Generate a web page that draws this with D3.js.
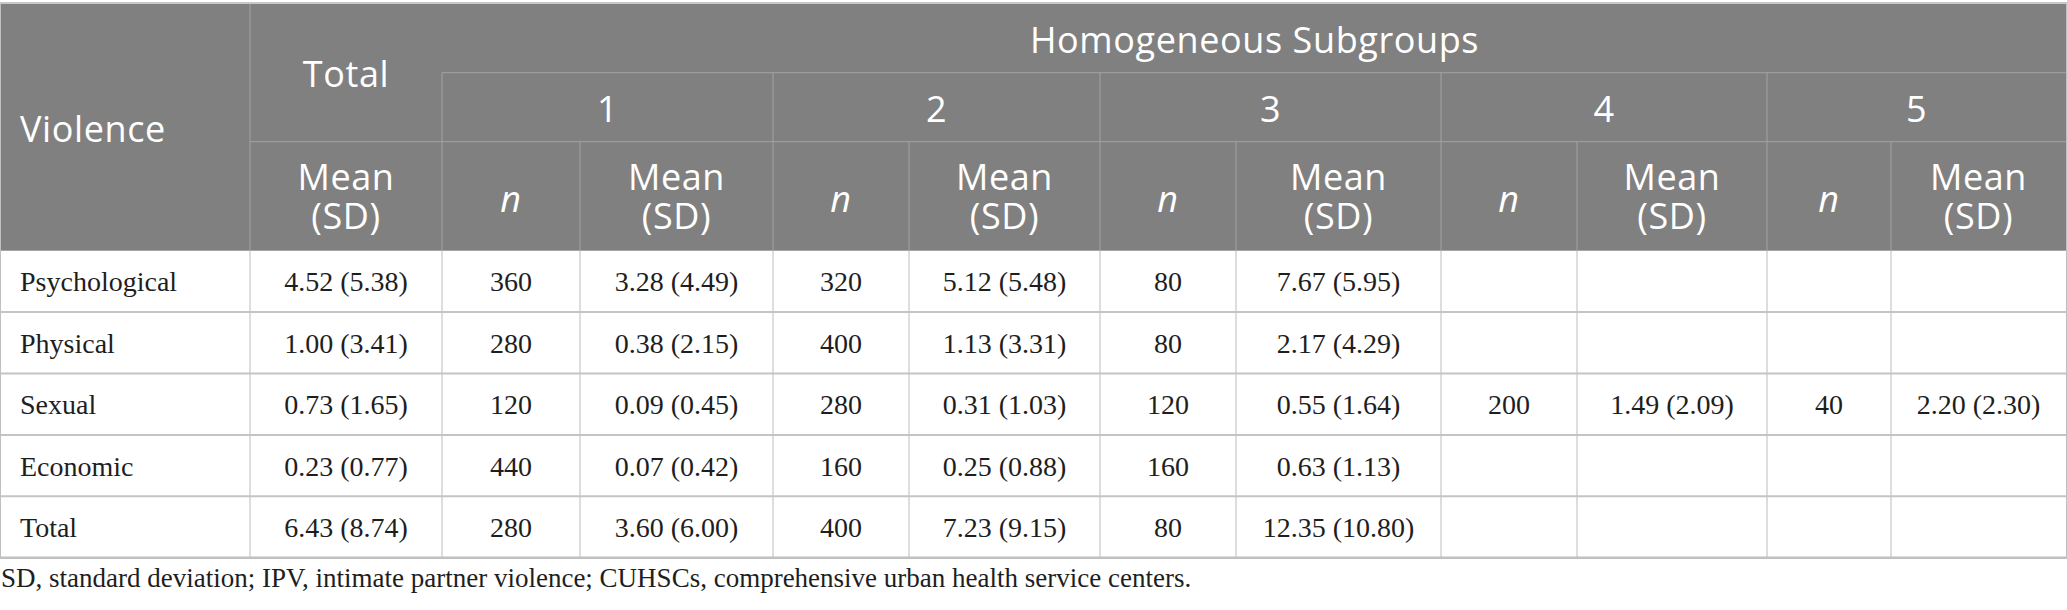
<!DOCTYPE html>
<html>
<head>
<meta charset="utf-8">
<script src="https://cdn.jsdelivr.net/npm/d3@7.9.0/dist/d3.min.js"></script>
<style>
  html, body { margin: 0; padding: 0; background: #fff; }
  svg { display: block; }
  .hd { font-family: "Open Sans", "Noto Sans", sans-serif; font-weight: 400; fill: #fff; letter-spacing: 0.6px; }
  .cell { font-family: "Liberation Serif", "Times New Roman", serif; fill: #1e1e1e; }
</style>
</head>
<body>
<svg id="chart"></svg>
<script>
// ---- table content ----
const violenceTypes = ['Psychological', 'Physical', 'Sexual', 'Economic', 'Total'];
const totalMeanSD   = ['4.52 (5.38)', '1.00 (3.41)', '0.73 (1.65)', '0.23 (0.77)', '6.43 (8.74)'];
const subgroups     = ['1', '2', '3', '4', '5'];
// n per subgroup (rows = violence types, cols = subgroups), null = empty cell
const subgroupN = [
  [360, 320, 80, null, null],
  [280, 400, 80, null, null],
  [120, 280, 120, 200, 40],
  [440, 160, 160, null, null],
  [280, 400, 80, null, null]
];
const subgroupMeanSD = [
  ['3.28 (4.49)', '5.12 (5.48)', '7.67 (5.95)', null, null],
  ['0.38 (2.15)', '1.13 (3.31)', '2.17 (4.29)', null, null],
  ['0.09 (0.45)', '0.31 (1.03)', '0.55 (1.64)', '1.49 (2.09)', '2.20 (2.30)'],
  ['0.07 (0.42)', '0.25 (0.88)', '0.63 (1.13)', null, null],
  ['3.60 (6.00)', '7.23 (9.15)', '12.35 (10.80)', null, null]
];
const headLabels = { rowHead: 'Violence', total: 'Total', span: 'Homogeneous Subgroups', mean: ['Mean', '(SD)'], n: 'n' };
const footnote = 'SD, standard deviation; IPV, intimate partner violence; CUHSCs, comprehensive urban health service centers.';

// ---- layout ----
const W = 2067, H = 610;
const colWidths = [250, 192, 138, 193, 136, 191, 136, 205, 136, 190, 124, 175];
const colEdges = d3.cumsum([0, ...colWidths]);           // 13 edges
const headY = [4, 72.7, 141.7, 250.7];
const tableBottom = 557.7;

const svg = d3.select('#chart').attr('width', W).attr('height', H);

// x position of each column (0 = label, 1 = total, then n/mean pairs)
const x = d3.scaleOrdinal().domain(d3.range(colWidths.length)).range(colEdges.slice(0, -1));
const colW = i => colWidths[i];
const cx = i => x(i) + colW(i) / 2;

const y = d3.scaleBand().domain(violenceTypes).range([headY[3], tableBottom]);

// ---- header ----
const head = svg.append('g');
head.append('rect')
  .attr('x', 0).attr('y', headY[0])
  .attr('width', W).attr('height', headY[3] - headY[0])
  .attr('fill', '#808080');

const hLine = '#a3a3a3';
// horizontal header lines
head.append('line').attr('x1', x(2)).attr('x2', W).attr('y1', headY[1]).attr('y2', headY[1]).attr('stroke', hLine);
head.append('line').attr('x1', x(1)).attr('x2', W).attr('y1', headY[2]).attr('y2', headY[2]).attr('stroke', hLine);
// vertical header lines
head.append('line').attr('x1', x(1)).attr('x2', x(1)).attr('y1', headY[0]).attr('y2', headY[3]).attr('stroke', hLine);
head.selectAll('line.gv').data(subgroups).join('line').attr('class', 'gv')
  .attr('x1', (d, i) => x(2 + 2 * i)).attr('x2', (d, i) => x(2 + 2 * i))
  .attr('y1', headY[1]).attr('y2', headY[3]).attr('stroke', hLine);
head.selectAll('line.nv').data(subgroups).join('line').attr('class', 'nv')
  .attr('x1', (d, i) => x(3 + 2 * i)).attr('x2', (d, i) => x(3 + 2 * i))
  .attr('y1', headY[2]).attr('y2', headY[3]).attr('stroke', hLine);

const FS = 36;
head.append('text').attr('class', 'hd').attr('x', 20).attr('y', 142)
  .attr('font-size', FS).text(headLabels.rowHead);
head.append('text').attr('class', 'hd').attr('x', cx(1)).attr('y', 87)
  .attr('text-anchor', 'middle').attr('font-size', FS).text(headLabels.total);
head.append('text').attr('class', 'hd').attr('x', (x(2) + W) / 2).attr('y', 53)
  .attr('text-anchor', 'middle').attr('font-size', FS).text(headLabels.span);
head.selectAll('text.grp').data(subgroups).join('text').attr('class', 'hd grp')
  .attr('x', (d, i) => (x(2 + 2 * i) + x(2 + 2 * i) + colW(2 + 2 * i) + colW(3 + 2 * i)) / 2)
  .attr('y', 122).attr('text-anchor', 'middle').attr('font-size', FS)
  .text(d => d);

// Mean (SD) column headers
const meanCols = [1, ...subgroups.map((d, i) => 3 + 2 * i)];
const mt = head.selectAll('text.mean').data(meanCols).join('text').attr('class', 'hd mean')
  .attr('text-anchor', 'middle').attr('font-size', FS);
mt.append('tspan').attr('x', d => cx(d)).attr('y', 190).text(headLabels.mean[0]);
mt.append('tspan').attr('x', d => cx(d)).attr('y', 229).text(headLabels.mean[1]);
head.selectAll('text.n').data(subgroups).join('text').attr('class', 'hd n')
  .attr('x', (d, i) => cx(2 + 2 * i)).attr('y', 212)
  .attr('text-anchor', 'middle').attr('font-size', FS).attr('font-style', 'italic')
  .text(headLabels.n);

// ---- body ----
const body = svg.append('g');
const gridV = '#bcbcbc', gridH = '#c4c4c4';

const rows = body.selectAll('g.row').data(violenceTypes).join('g').attr('class', 'row')
  .attr('transform', d => `translate(0,${y(d)})`);

rows.append('text').attr('class', 'cell').attr('x', 20).attr('y', y.bandwidth() / 2 + 10)
  .attr('font-size', 28).text(d => d);
rows.append('text').attr('class', 'cell').attr('x', cx(1)).attr('y', y.bandwidth() / 2 + 10)
  .attr('text-anchor', 'middle').attr('font-size', 28).text((d, i) => totalMeanSD[i]);

rows.each(function (d, r) {
  const g = d3.select(this);
  const cells = subgroups.flatMap((s, k) => [
    { col: 2 + 2 * k, v: subgroupN[r][k] },
    { col: 3 + 2 * k, v: subgroupMeanSD[r][k] }
  ]).filter(c => c.v != null);
  g.selectAll('text.v').data(cells).join('text').attr('class', 'cell v')
    .attr('x', c => cx(c.col)).attr('y', y.bandwidth() / 2 + 10)
    .attr('text-anchor', 'middle').attr('font-size', 28)
    .text(c => c.v);
});

// grid lines
body.selectAll('line.v').data(colEdges.slice(1, -1)).join('line').attr('class', 'v')
  .attr('x1', d => d).attr('x2', d => d)
  .attr('y1', headY[3]).attr('y2', tableBottom).attr('stroke', gridV);
body.selectAll('line.h').data(violenceTypes.slice(1)).join('line').attr('class', 'h')
  .attr('x1', 0).attr('x2', W).attr('y1', d => y(d)).attr('y2', d => y(d))
  .attr('stroke', gridH).attr('stroke-width', 2);

// outer border
svg.append('line').attr('x1', 0).attr('x2', W).attr('y1', headY[0] - 1).attr('y2', headY[0] - 1)
  .attr('stroke', '#c8c8c8').attr('stroke-width', 2);
svg.append('line').attr('x1', 0).attr('x2', W).attr('y1', tableBottom).attr('y2', tableBottom)
  .attr('stroke', '#c0c0c0').attr('stroke-width', 2.5);
svg.append('line').attr('x1', 0.5).attr('x2', 0.5).attr('y1', headY[0]).attr('y2', tableBottom)
  .attr('stroke', '#c0c0c0');
svg.append('line').attr('x1', W - 0.5).attr('x2', W - 0.5).attr('y1', headY[0]).attr('y2', tableBottom)
  .attr('stroke', '#c0c0c0');

// footnote
svg.append('text').attr('class', 'cell').attr('x', 1).attr('y', 587)
  .attr('font-size', 27).text(footnote);
</script>
</body>
</html>
